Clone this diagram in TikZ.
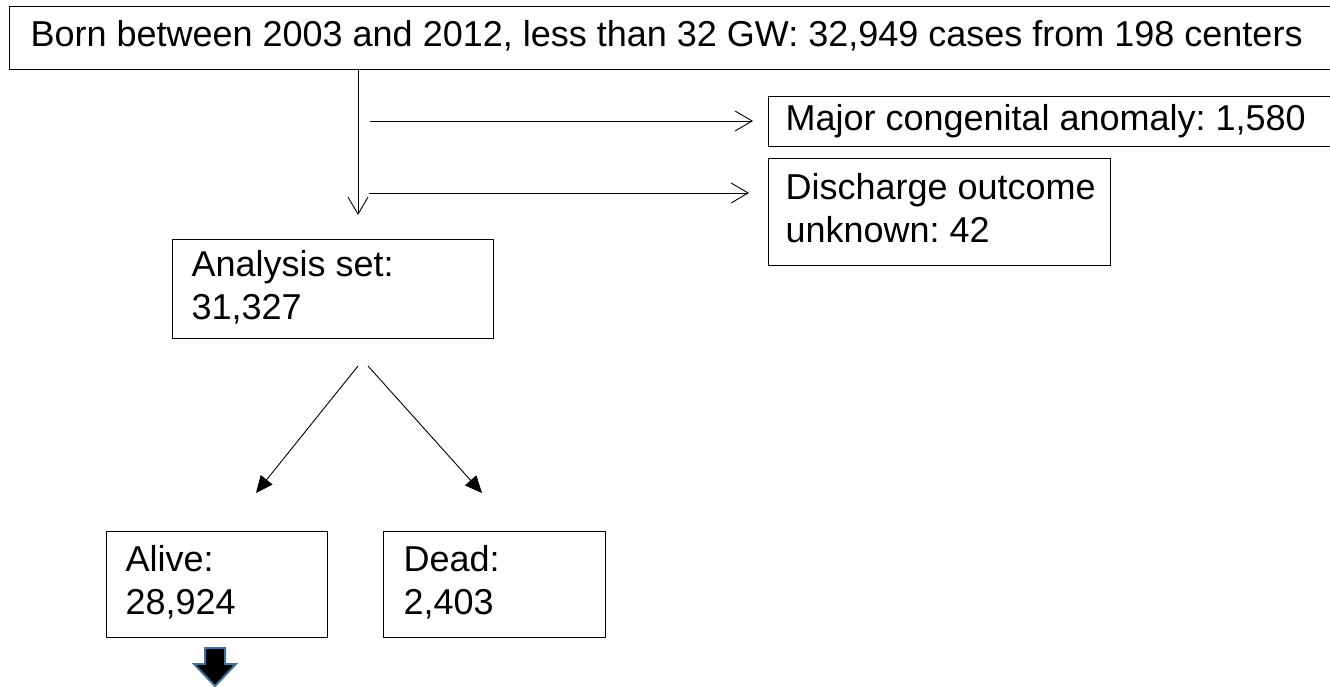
\documentclass[tikz,border=0pt]{standalone}
\usepackage{fontspec}
\setmainfont{Liberation Sans}
\usetikzlibrary{arrows.meta}
\definecolor{arrowblue}{RGB}{65,113,156}
\newcommand{\lbx}[2]{\makebox[#1][l]{\begin{tabular}{@{}l@{}}#2\end{tabular}}}
\begin{document}
\begin{tikzpicture}[x=1pt,y=-1pt,
  every node/.style={font=\fontsize{36}{43}\selectfont\frenchspacing},
  box/.style={draw=black, line width=1.1pt, anchor=north west, inner xsep=0pt, inner ysep=0pt},
  openarrow/.style={draw=black, line width=0.9pt, -{Straight Barb[length=17pt,width=20pt,line width=0.9pt]}},
  filledarrow/.style={draw=black, line width=0.9pt, -{Triangle[length=17pt,width=15pt]}},
  blockarrow/.style={fill=black, draw=arrowblue, line width=2pt, line join=miter}
]
\useasboundingbox (0,0) rectangle (1330,686);
\fill[white] (0,0) rectangle (1330,686);

% top box (runs past right edge)
\node[box, minimum height=63pt] (top) at (9,6)
  {\hspace{21pt}\lbx{1319pt}{Born between 2003 and 2012, less than 32 GW: 32,949 cases from 198 centers}};

\node[box, minimum height=50pt] (major) at (768,96)
  {\hspace{17pt}\lbx{580pt}{Major congenital anomaly: 1,580}};
\node[box, minimum height=107pt] (disc) at (768,158)
  {\hspace{17pt}\lbx{325pt}{Discharge outcome\\unknown: 42}};

\node[box, minimum height=99pt] (anal) at (172,239)
  {\hspace{19pt}\lbx{302pt}{Analysis set:\\31,327}};

\node[box, minimum height=106pt] (alive) at (106,531)
  {\hspace{19pt}\lbx{202pt}{Alive:\\28,924}};
\node[box, minimum height=106pt] (dead) at (383,531)
  {\hspace{20pt}\lbx{202pt}{Dead:\\2,403}};

% main vertical arrow
\coordinate (vtop) at (358,69);
\coordinate (vend) at (358,215);
\draw[openarrow] (vtop) -- (vend);

% side arrows
\coordinate (s1) at (370,121);
\coordinate (s2) at (369,193);
\draw[openarrow] (s1) -- ([xshift=-15pt]s1 -| major.west);
\draw[openarrow] (s2) -- ([xshift=-19pt]s2 -| disc.west);

% diagonal arrows
\coordinate (d1s) at (358,366);
\coordinate (d2s) at (368,366);
\draw[filledarrow] (d1s) -- ([xshift=150pt,yshift=38pt]alive.north west);
\draw[filledarrow] (d2s) -- ([xshift=99pt,yshift=38pt]dead.north west);

% blue-outlined block arrow
\draw[blockarrow] (205,648) -- (225,648) -- (225,664) -- (236,664) -- (215,686) -- (194,664) -- (205,664) -- cycle;
\end{tikzpicture}
\end{document}
